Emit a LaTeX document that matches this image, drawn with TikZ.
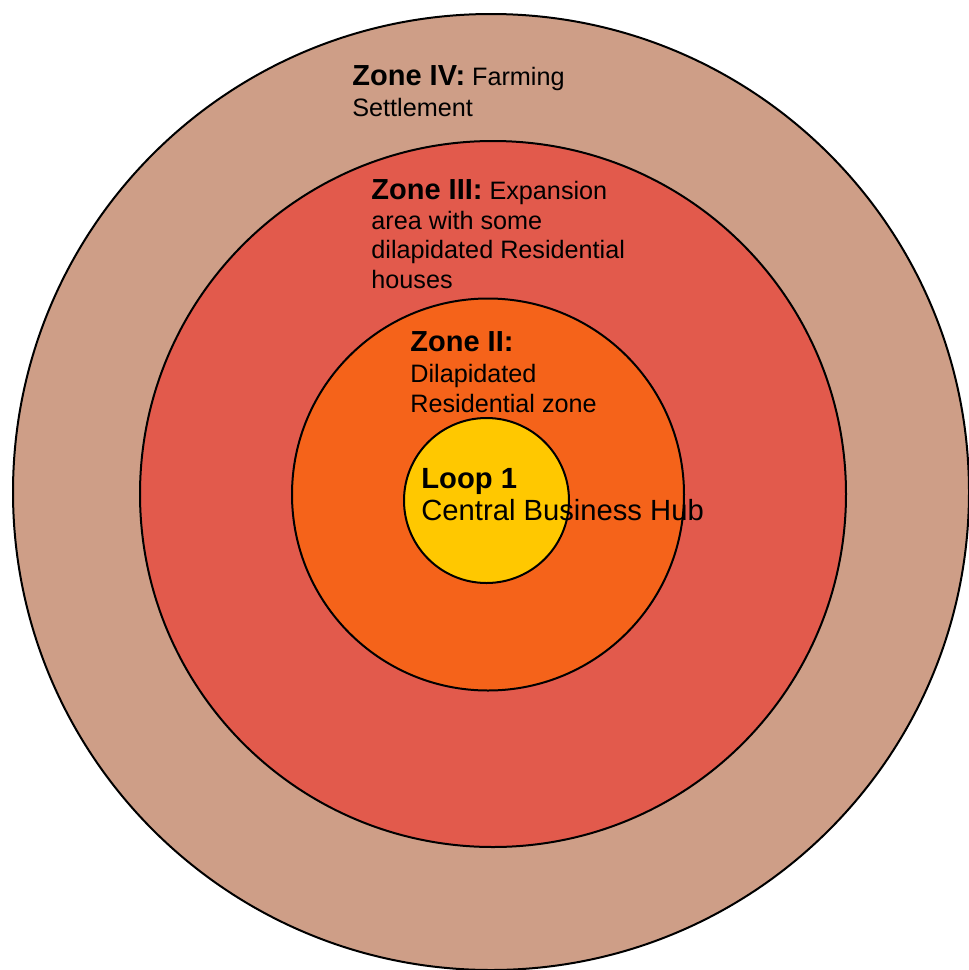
\documentclass[tikz,border=0pt]{standalone}
\usepackage{fontspec}
\setmainfont{Liberation Sans}
\usetikzlibrary{positioning}
\definecolor{farmtan}{RGB}{206,158,135}
\definecolor{expred}{RGB}{226,90,76}
\definecolor{resorange}{RGB}{245,99,26}
\definecolor{hubyellow}{RGB}{255,200,0}

\begin{document}
\begin{tikzpicture}[x=0.5pt, y=-0.5pt,
    zone/.style={circle, draw, line width=1pt, inner sep=0pt},
    zonetext/.style={anchor=base west, align=left, inner sep=0pt, font=\fontsize{12.6}{14.6}\selectfont}]
    \useasboundingbox (0,0) rectangle (969,970);
    % Ζώνες (κύκλοι)
    \node[zone, fill=farmtan, minimum size=478pt] (z4) at (491,492) {};
    \node[zone, fill=expred, minimum size=353pt] (z3) at (493,494) {};
    \node[zone, fill=resorange, minimum size=196pt] (z2) at (488,494.5) {};
    \node[zone, fill=hubyellow, minimum size=82.5pt] (z1) at (486.5,500.5) {};

    % Κείμενα (base = τελευταία γραμμή)
    \node[zonetext] (t4) at (352,116) {{\bfseries\fontsize{14.5}{14.6}\selectfont Zone IV:} Farming\\[0.8pt] Settlement};
    \node[zonetext] (t3) at (371,288) {{\bfseries\fontsize{14.5}{14.6}\selectfont Zone III:} Expansion\\[0.5pt] area with some\\ dilapidated Residential\\ houses};
    \node[zonetext] (t2) at (410,412) {{\bfseries\fontsize{14.5}{14.6}\selectfont Zone II:}\\[1pt] Dilapidated\\ Residential zone};
    \node[zonetext, font=\fontsize{14.6}{16}\selectfont] (t1) at (421,520) {\textbf{Loop 1}\\ Central Business Hub};
\end{tikzpicture}
\end{document}
